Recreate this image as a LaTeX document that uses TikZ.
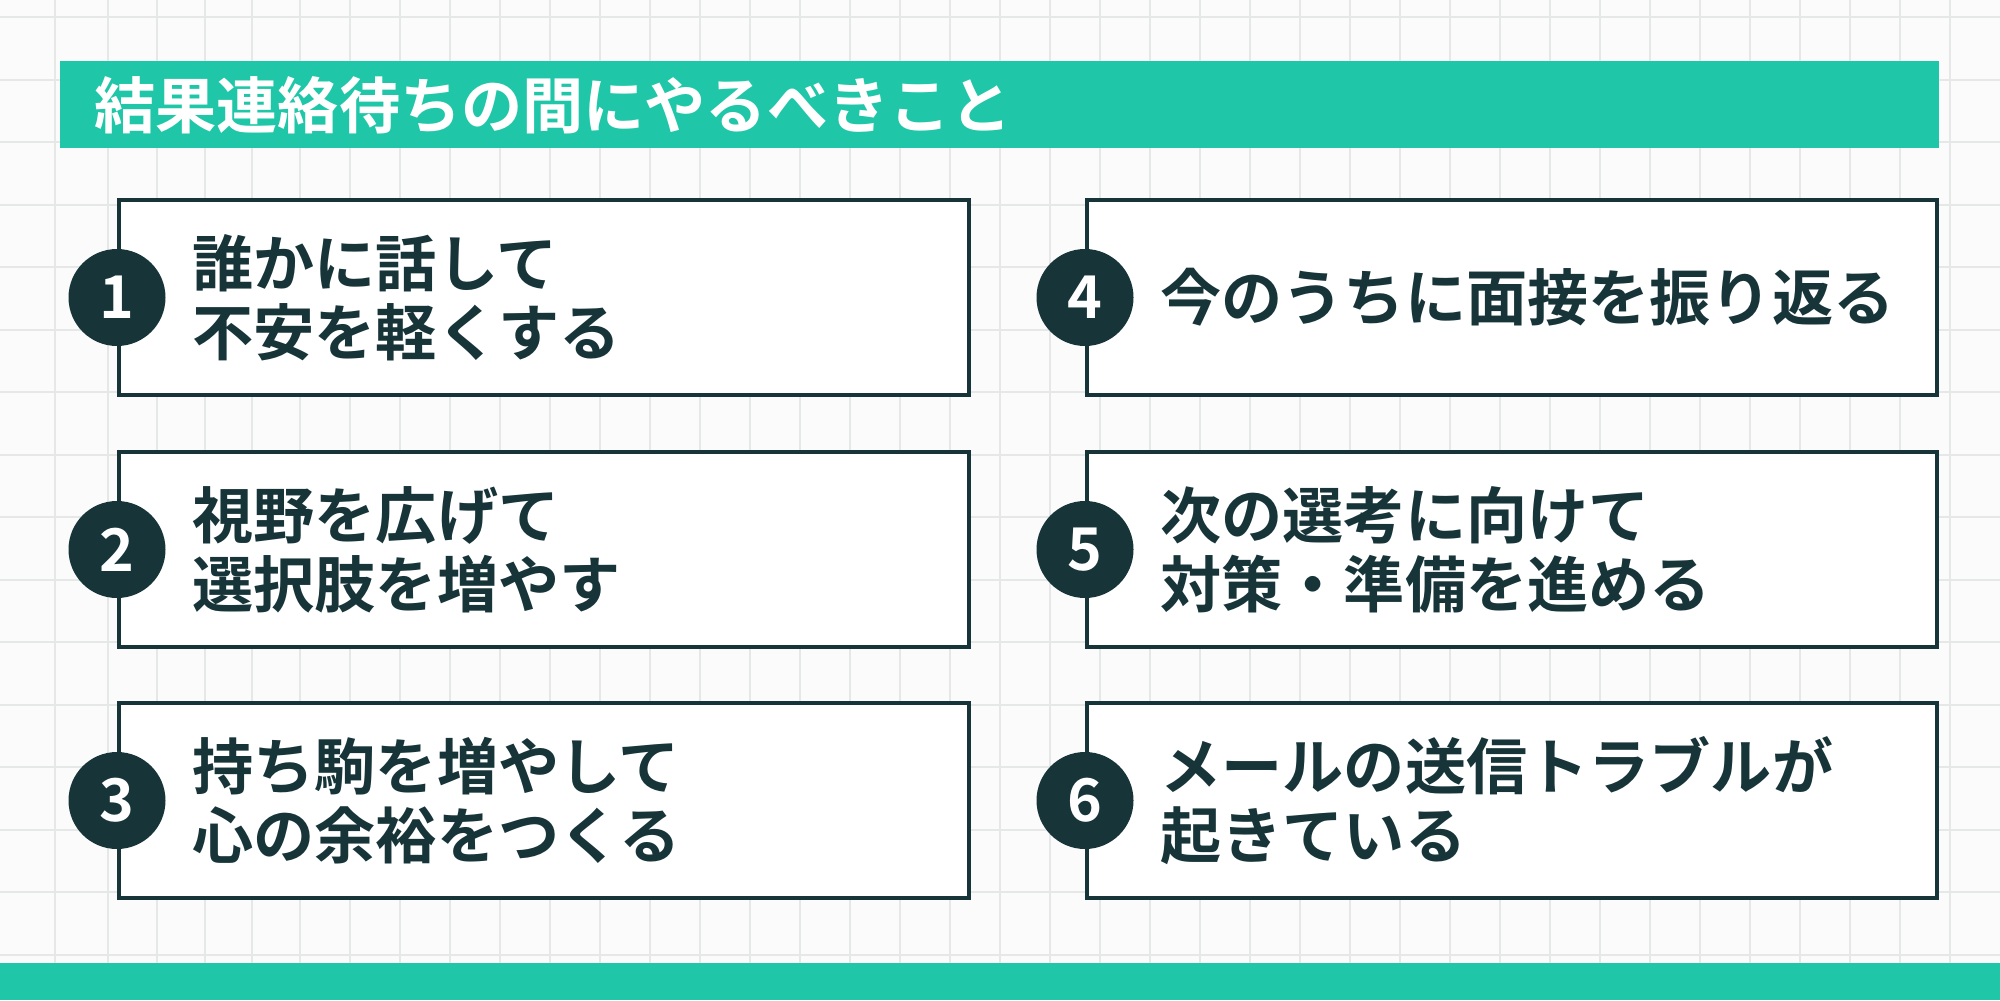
\documentclass[tikz,border=0pt]{standalone}
\usepackage{fontspec}
\newfontfamily\jp[BoldFont={Noto Sans CJK JP Bold}]{Noto Sans CJK JP}
\definecolor{tl}{HTML}{1FC7A8}
\definecolor{dk}{HTML}{173539}
\definecolor{gr}{HTML}{E6E8E8}
\begin{document}
\begin{tikzpicture}[x=0.05cm,y=-0.05cm,
  card/.style={draw=dk,line width=5.5pt,fill=white},
  num/.style={circle,fill=dk,minimum size=97*0.05cm,inner sep=0pt,text=white,font=\jp\bfseries\fontsize{84}{84}\selectfont},
  lab/.style={anchor=west,text=dk,align=left,font=\jp\bfseries\fontsize{87}{98}\selectfont}]
\useasboundingbox (0,0) rectangle (2000,1000);
\fill[white!97!gray] (0,0) rectangle (2000,1000);
\foreach \x in {55,108,157,205,252,300,350,400,450,500,550,600,650,700,750,800,850,900,950,1000,1050,1100,1150,1200,1250,1300,1350,1400,1450,1500,1550,1600,1650,1700,1750,1800,1850,1900,1950}
  \draw[gr,line width=1.5pt] (\x,0) -- (\x,1000);
\foreach \y in {17,80,142,205,267,330,392,455,517,580,642,705,767,830,892,955}
  \draw[gr,line width=1.5pt] (0,\y) -- (2000,\y);
\fill[tl] (60,61) rectangle (1939,148);
\node[anchor=west,text=white,font=\jp\bfseries\fontsize{87}{87}\selectfont] (title) at (92,105) {結果連絡待ちの間にやるべきこと};
\fill[tl] (0,963) rectangle (2000,1000);
\foreach \i/\xa/\ya/\t in {1/119/200/{誰かに話して\\不安を軽くする},2/119/452/{視野を広げて\\選択肢を増やす},3/119/703/{持ち駒を増やして\\心の余裕をつくる},4/1087/200/{今のうちに面接を振り返る},5/1087/452/{次の選考に向けて\\対策・準備を進める},6/1087/703/{メールの送信トラブルが\\起きている}}{
  \draw[card] (\xa,\ya) rectangle ++(850,195);
  \node[num] (n\i) at (\xa-2,\ya+97.5) {\i};
  \node[lab] (t\i) at (\xa+71,\ya+97.5) {\t};
}
\end{tikzpicture}
\end{document}
